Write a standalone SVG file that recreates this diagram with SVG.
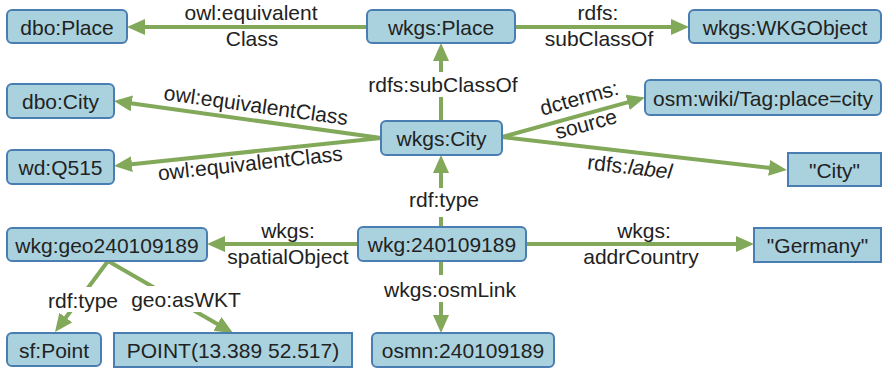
<svg xmlns="http://www.w3.org/2000/svg" width="883" height="368" viewBox="0 0 883 368">
  <style>
    text { font-family: "Liberation Sans", Arial, sans-serif; font-size: 21px; fill: #222; }
    .node text, .lbl text { text-anchor: middle; }
    .res { fill: #a9d2de; stroke: #4a7db1; stroke-width: 2; }
    .lit { fill: #a9d2de; stroke: #4a7db1; stroke-width: 2; }
    .edge { stroke: #82a85a; stroke-width: 4; fill: none; marker-end: url(#arrow); }
    .bg { fill: #ffffff; }
  </style>
  <defs>
    <marker id="arrow" markerUnits="userSpaceOnUse" markerWidth="18" markerHeight="16" refX="12" refY="8" orient="auto">
      <path d="M0,0 L18,8 L0,16 z" fill="#82a85a"/>
    </marker>
  </defs>

  <!-- connectors -->
  <g id="edges">
    <line class="edge" x1="367" y1="27" x2="133" y2="27"/>
    <line class="edge" x1="515" y1="27" x2="683" y2="27"/>
    <line class="edge" x1="441" y1="121" x2="441" y2="49"/>
    <line class="edge" x1="381" y1="138" x2="119.9" y2="101.8"/>
    <line class="edge" x1="381" y1="138" x2="120" y2="165.4"/>
    <line class="edge" x1="502" y1="137" x2="639.2" y2="99.1"/>
    <line class="edge" x1="502" y1="137" x2="781" y2="169.3"/>
    <line class="edge" x1="441" y1="227" x2="441" y2="161"/>
    <line class="edge" x1="358" y1="244" x2="213" y2="244"/>
    <line class="edge" x1="526" y1="244" x2="748" y2="244"/>
    <line class="edge" x1="441" y1="261" x2="441" y2="327"/>
    <line class="edge" x1="108" y1="261" x2="58.6" y2="327.2"/>
    <line class="edge" x1="108" y1="261" x2="227.8" y2="330"/>

    <!-- edge labels -->
    <g class="lbl">
      <text x="251" y="20">owl:equivalent</text>
      <text x="252" y="46">Class</text>
      <text x="598" y="20">rdfs:</text>
      <text x="599" y="46">subClassOf</text>

      <rect class="bg" x="366" y="72" width="154" height="25"/>
      <text x="443" y="92">rdfs:subClassOf</text>

      <text x="255" y="112.5" transform="rotate(7.9 255 112.5)">owl:equivalentClass</text>
      <text x="251" y="170.5" transform="rotate(-6.2 251 170.5)">owl:equivalentClass</text>

      <text x="581" y="105" transform="rotate(-15.4 581 105)">dcterms:</text>
      <text x="588" y="131" transform="rotate(-15.4 588 131)">source</text>
      <text x="629" y="174" transform="rotate(6.6 629 174)">rdfs:<tspan font-style="italic">label</tspan></text>

      <rect class="bg" x="408" y="188" width="74" height="29"/>
      <text x="444" y="207">rdf:type</text>

      <text x="288" y="238">wkgs:</text>
      <text x="288" y="264">spatialObject</text>
      <text x="644" y="238">wkgs:</text>
      <text x="641" y="264">addrCountry</text>

      <rect class="bg" x="383" y="275" width="136" height="27"/>
      <text x="450" y="297">wkgs:osmLink</text>

      <rect class="bg" x="46" y="287" width="74" height="25"/>
      <text x="83" y="308">rdf:type</text>
      <rect class="bg" x="130" y="286" width="113" height="26"/>
      <text x="186" y="307">geo:asWKT</text>
    </g>
  </g>

  <!-- nodes -->
  <g id="n-dbo-place" class="node">
    <rect class="res" x="7" y="10" width="120" height="33" rx="5"/>
    <text x="67" y="34.5">dbo:Place</text>
  </g>
  <g id="n-wkgs-place" class="node">
    <rect class="res" x="367" y="10" width="148" height="33" rx="5"/>
    <text x="441" y="34.5">wkgs:Place</text>
  </g>
  <g id="n-wkgs-wkgobject" class="node">
    <rect class="res" x="689" y="10" width="192" height="33" rx="5"/>
    <text x="785" y="34.5">wkgs:WKGObject</text>
  </g>
  <g id="n-dbo-city" class="node">
    <rect class="res" x="7" y="84" width="107" height="34" rx="5"/>
    <text x="60.5" y="109">dbo:City</text>
  </g>
  <g id="n-osm-tag" class="node">
    <rect class="res" x="645" y="80" width="236" height="35" rx="5"/>
    <text x="763" y="105.5">osm:wiki/Tag:place=city</text>
  </g>
  <g id="n-wkgs-city" class="node">
    <rect class="res" x="381" y="121" width="121" height="34" rx="5"/>
    <text x="441.5" y="146">wkgs:City</text>
  </g>
  <g id="n-wd-q515" class="node">
    <rect class="res" x="7" y="150" width="107" height="34" rx="5"/>
    <text x="60.5" y="175">wd:Q515</text>
  </g>
  <g id="n-lit-city" class="node">
    <rect class="lit" x="788" y="153" width="93" height="33"/>
    <text x="834.5" y="177.5">"City"</text>
  </g>
  <g id="n-wkg-geo" class="node">
    <rect class="res" x="7" y="228" width="200" height="33" rx="5"/>
    <text x="107" y="252.5">wkg:geo240109189</text>
  </g>
  <g id="n-wkg-240109189" class="node">
    <rect class="res" x="358" y="227" width="168" height="34" rx="5"/>
    <text x="442" y="252">wkg:240109189</text>
  </g>
  <g id="n-lit-germany" class="node">
    <rect class="lit" x="754" y="228" width="127" height="34"/>
    <text x="817.5" y="253">"Germany"</text>
  </g>
  <g id="n-sf-point" class="node">
    <rect class="res" x="7" y="333" width="94" height="33" rx="5"/>
    <text x="54" y="357.5">sf:Point</text>
  </g>
  <g id="n-lit-wkt" class="node">
    <rect class="lit" x="114" y="333" width="238" height="34"/>
    <text x="233" y="358">POINT(13.389 52.517)</text>
  </g>
  <g id="n-osmn" class="node">
    <rect class="res" x="372" y="333" width="182" height="34" rx="5"/>
    <text x="463" y="358">osmn:240109189</text>
  </g>
</svg>
